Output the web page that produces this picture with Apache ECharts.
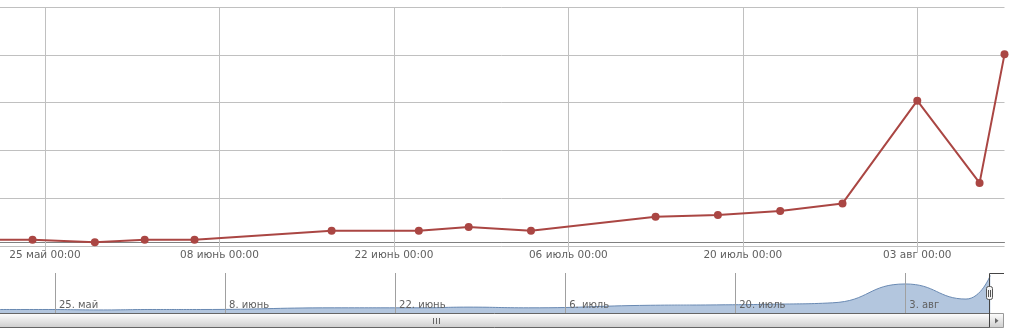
<!DOCTYPE html>
<html><head><meta charset="utf-8">
<script src="https://cdn.jsdelivr.net/npm/echarts@6/dist/echarts.min.js"></script>
<style>html,body{margin:0;padding:0;background:#fff}#c{width:1014px;height:336px}</style>
</head><body><div id="c"></div>
<script>
// ---- data ----
const dates = ['2015-05-20','2015-05-24','2015-05-29','2015-06-02','2015-06-06','2015-06-17','2015-06-24','2015-06-28','2015-07-03','2015-07-13','2015-07-18','2015-07-23','2015-07-28','2015-08-03','2015-08-08','2015-08-10'];
const values = [13,13,8,13,13,32,32,40,32,61,65,73,89,304,132,401];
const tickDates = ['2015-05-25','2015-06-08','2015-06-22','2015-07-06','2015-07-20','2015-08-03'];
const monthNames = ['янв','фев','мар','апр','май','июнь','июль','авг','сен','окт','ноя','дек'];
const yTicks = [0,100,200,300,400,500];

const REF = Date.UTC(2015,4,25);
const DAY = 86400000;
function toDay(s){const p=s.split('-').map(Number);return (Date.UTC(p[0],p[1]-1,p[2])-REF)/DAY;}
function dayDate(v){return new Date(REF+Math.round(v)*DAY);}
function mainLabel(v){const d=dayDate(v);const dd=String(d.getUTCDate()).padStart(2,'0');return dd+' '+monthNames[d.getUTCMonth()]+' 00:00';}
function navLabel(v){const d=dayDate(v);return d.getUTCDate()+'. '+monthNames[d.getUTCMonth()];}
const points = dates.map((s,i)=>[toDay(s),values[i]]);
const tickDays = tickDates.map(toDay);
const X_MIN = -14;
const X_MAX = toDay(dates[dates.length-1]);

const chart = echarts.init(document.getElementById('c'));
const grad = () => new echarts.graphic.LinearGradient(0,0,0,1,[{offset:0,color:'#ffffff'},{offset:1,color:'#cdcdcd'}]);
const font = 'DejaVu Sans';
chart.setOption({
  animation:false,
  grid:[
    {left:-129.46,right:9.5,top:7,height:239,outerBoundsMode:'none',containLabel:false},
    {left:-115.06,right:23.7,top:273,height:40,outerBoundsMode:'none',containLabel:false}
  ],
  xAxis:[
    {type:'value',gridIndex:0,min:X_MIN,max:X_MAX,interval:14,offset:-4,
     axisLine:{show:true,lineStyle:{color:'#808080',width:1}},
     axisTick:{show:true,length:10,customValues:tickDays,lineStyle:{color:'#c0c0c0'}},
     axisLabel:{customValues:tickDays,formatter:mainLabel,color:'#606060',fontFamily:font,fontSize:10.5,lineHeight:11,margin:8},
     splitLine:{show:true,lineStyle:{color:'#c0c0c0',width:1}}},
    {type:'value',gridIndex:1,min:X_MIN,max:X_MAX,interval:14,z:5,
     axisLine:{show:false},
     axisTick:{show:false,customValues:tickDays},
     axisLabel:{inside:true,customValues:tickDays,formatter:navLabel,align:'left',padding:[0,0,0,4],color:'#606060',fontFamily:font,fontSize:10,lineHeight:10,margin:3},
     splitLine:{show:true,lineStyle:{color:'#a0a0a0',width:1}}}
  ],
  yAxis:[
    {type:'value',gridIndex:0,min:yTicks[0],max:yTicks[yTicks.length-1],interval:yTicks[1]-yTicks[0],
     axisLine:{show:false},axisTick:{show:false},axisLabel:{show:false},
     splitLine:{show:true,lineStyle:{color:'#c0c0c0',width:1}}},
    {type:'value',gridIndex:1,min:-27,max:429,show:false,splitLine:{show:false}}
  ],
  series:[
    {type:'line',xAxisIndex:0,yAxisIndex:0,data:points,symbol:'circle',symbolSize:8,showSymbol:true,
     lineStyle:{color:'#AA4643',width:2},itemStyle:{color:'#AA4643'},z:3},
    {type:'line',xAxisIndex:1,yAxisIndex:1,data:points,smooth:0.5,showSymbol:false,
     lineStyle:{color:'#6a8ab3',width:1},areaStyle:{color:'#b3c6de',opacity:1,origin:'start'},z:2}
  ],
  graphic:[
    {type:'rect',z:10,shape:{x:-120,y:313.5,width:1109.5,height:14},style:{fill:grad(),stroke:'#666',lineWidth:1}},
    {type:'line',z:11,shape:{x1:433.5,y1:318,x2:433.5,y2:324},style:{stroke:'#666',lineWidth:1}},
    {type:'line',z:11,shape:{x1:436.5,y1:318,x2:436.5,y2:324},style:{stroke:'#666',lineWidth:1}},
    {type:'line',z:11,shape:{x1:439.5,y1:318,x2:439.5,y2:324},style:{stroke:'#666',lineWidth:1}},
    {type:'rect',z:10,shape:{x:989.5,y:313.5,width:14,height:14},style:{fill:grad(),stroke:'#999',lineWidth:1}},
    {type:'polygon',z:11,shape:{points:[[995,318],[995,323.5],[998.5,320.75]]},style:{fill:'#666'}},
    {type:'polyline',z:12,shape:{points:[[989.5,327.5],[989.5,273.5],[1004,273.5]]},style:{stroke:'#444',fill:null,lineWidth:1}},
    {type:'rect',z:13,shape:{x:986.5,y:286.5,width:6,height:13,r:2},style:{fill:'#f4f4f4',stroke:'#555',lineWidth:1}},
    {type:'line',z:14,shape:{x1:988.5,y1:290,x2:988.5,y2:297},style:{stroke:'#555',lineWidth:1}},
    {type:'line',z:14,shape:{x1:990.5,y1:290,x2:990.5,y2:297},style:{stroke:'#555',lineWidth:1}}
  ]
});
</script></body></html>
